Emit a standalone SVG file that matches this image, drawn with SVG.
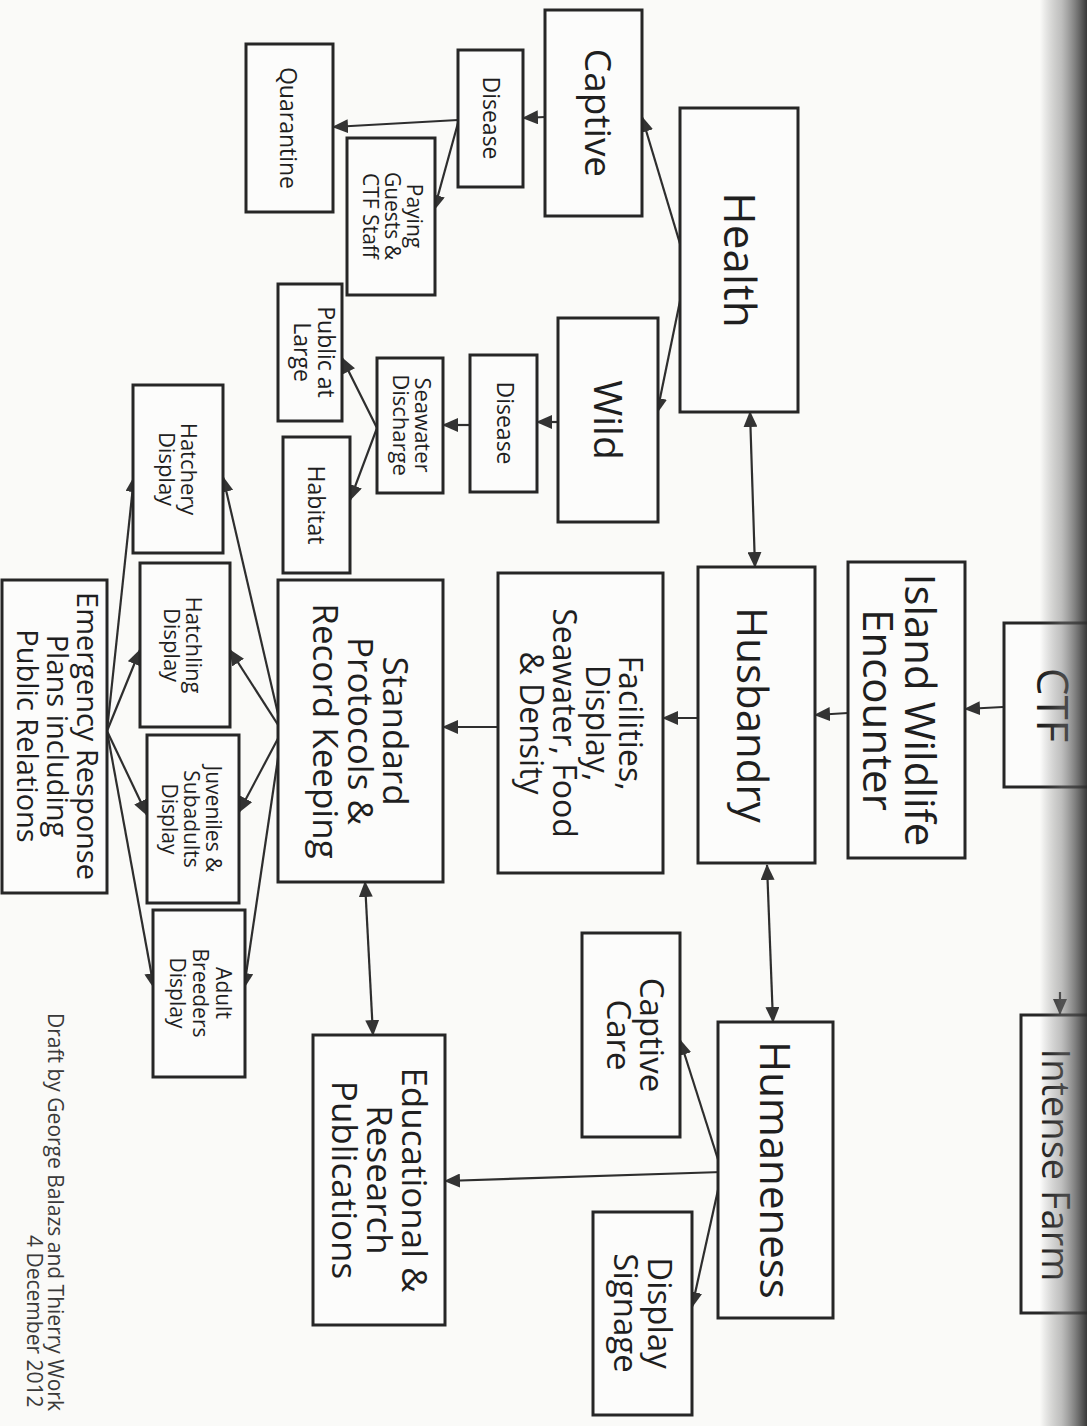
<svg xmlns="http://www.w3.org/2000/svg" width="1087" height="1426" viewBox="0 0 1087 1426">
<style>
.box{fill:#fcfcfb;stroke:#262626;stroke-width:3}
.t{font-family:"Open Sans","Noto Sans","Liberation Sans",sans-serif;fill:#1f1f1f;text-anchor:middle}
.c{fill:none;stroke:#2e2e2e;stroke-width:2.2;marker-end:url(#ah)}
.d{marker-start:url(#ah)}
.foot{font-family:"Open Sans","Noto Sans","Liberation Sans",sans-serif;fill:#3a3a3a;font-size:21px}
</style>
<defs>
<marker id="ah" markerUnits="userSpaceOnUse" markerWidth="16" markerHeight="14" refX="15" refY="7" orient="auto-start-reverse">
<path d="M0,0 L16,7 L0,14 z" fill="#333"/>
</marker>
<linearGradient id="shade" x1="0" y1="0" x2="1" y2="0">
<stop offset="0" stop-color="#555" stop-opacity="0"/>
<stop offset="0.45" stop-color="#777" stop-opacity="0.45"/>
<stop offset="1" stop-color="#2e2e2e" stop-opacity="0.95"/>
</linearGradient>
</defs>
<rect width="1087" height="1426" fill="#fafaf8"/>

<g id="connectors">
<path class="c" d="M1003,707 L965,709"/>
<path class="c" d="M848,713 L815,715"/>
<path class="c d" d="M750,412 L755,567"/>
<path class="c d" d="M767,865 L773,1022"/>
<path class="c" d="M687,267 L642,117"/>
<path class="c" d="M687,267 L657,413"/>
<path class="c" d="M545,117 L523,118"/>
<path class="c" d="M458,120 L333,127"/>
<path class="c" d="M458,123 L434,210"/>
<path class="c" d="M560,422 L537,422"/>
<path class="c" d="M470,425 L443,425"/>
<path class="c" d="M377,428 L342,358"/>
<path class="c" d="M377,428 L350,500"/>
<path class="c" d="M698,718 L663,718"/>
<path class="c" d="M498,727 L443,727"/>
<path class="c d" d="M365,882 L373,1035"/>
<path class="c" d="M722,1172 L680,1040"/>
<path class="c" d="M722,1172 L692,1307"/>
<path class="c" d="M722,1172 L445,1181"/>
<path class="c" d="M282,731 L223,477"/>
<path class="c" d="M282,731 L230,650"/>
<path class="c" d="M282,731 L239,812"/>
<path class="c" d="M282,731 L244,988"/>
<path class="c" d="M107,731 L134,477"/>
<path class="c" d="M107,731 L140,650"/>
<path class="c" d="M107,731 L147,815"/>
<path class="c" d="M107,731 L154,988"/>
<path class="c" d="M1060,992 L1060,1014"/>
</g>

<g id="quarantine"><rect class="box" x="246" y="44" width="87" height="168"/>
<text class="t" font-size="23" transform="translate(280,128) rotate(90)">Quarantine</text></g>
<g id="disease-captive"><rect class="box" x="458" y="50" width="65" height="137"/>
<text class="t" font-size="23" transform="translate(483,118) rotate(90)">Disease</text></g>
<g id="captive"><rect class="box" x="545" y="10" width="97" height="206"/>
<text class="t" font-size="37" transform="translate(585,113) rotate(90)">Captive</text></g>
<g id="paying-guests"><rect class="box" x="347" y="138" width="88" height="157"/>
<text class="t" font-size="21" transform="translate(407,216) rotate(90)"><tspan x="0" y="0">Paying</tspan><tspan x="0" y="22">Guests &amp;</tspan><tspan x="0" y="44">CTF Staff</tspan></text></g>
<g id="health"><rect class="box" x="680" y="108" width="118" height="304"/>
<text class="t" font-size="44" transform="translate(724,260) rotate(90)">Health</text></g>
<g id="public"><rect class="box" x="278" y="284" width="64" height="137"/>
<text class="t" font-size="23" transform="translate(318,352) rotate(90)"><tspan x="0" y="0">Public at</tspan><tspan x="0" y="24">Large</tspan></text></g>
<g id="seawater"><rect class="box" x="377" y="358" width="66" height="135"/>
<text class="t" font-size="22" transform="translate(415,425) rotate(90)"><tspan x="0" y="0">Seawater</tspan><tspan x="0" y="22">Discharge</tspan></text></g>
<g id="disease-wild"><rect class="box" x="470" y="355" width="67" height="137"/>
<text class="t" font-size="23" transform="translate(497,423) rotate(90)">Disease</text></g>
<g id="wild"><rect class="box" x="558" y="318" width="100" height="204"/>
<text class="t" font-size="39" transform="translate(594,420) rotate(90)">Wild</text></g>
<g id="habitat"><rect class="box" x="283" y="437" width="67" height="136"/>
<text class="t" font-size="23" transform="translate(308,505) rotate(90)">Habitat</text></g>
<g id="hatchery"><rect class="box" x="133" y="385" width="90" height="168"/>
<text class="t" font-size="22" transform="translate(181,469) rotate(90)"><tspan x="0" y="0">Hatchery</tspan><tspan x="0" y="22">Display</tspan></text></g>
<g id="hatchling"><rect class="box" x="140" y="563" width="90" height="164"/>
<text class="t" font-size="22" transform="translate(186,645) rotate(90)"><tspan x="0" y="0">Hatchling</tspan><tspan x="0" y="22">Display</tspan></text></g>
<g id="juveniles"><rect class="box" x="147" y="735" width="92" height="168"/>
<text class="t" font-size="21" transform="translate(206,819) rotate(90)"><tspan x="0" y="0">Juveniles &amp;</tspan><tspan x="0" y="22">Subadults</tspan><tspan x="0" y="44">Display</tspan></text></g>
<g id="adult"><rect class="box" x="153" y="910" width="92" height="167"/>
<text class="t" font-size="21" transform="translate(216,993) rotate(90)"><tspan x="0" y="0">Adult</tspan><tspan x="0" y="23">Breeders</tspan><tspan x="0" y="46">Display</tspan></text></g>
<g id="emergency"><rect class="box" x="2" y="580" width="105" height="313"/>
<text class="t" font-size="29" transform="translate(77,736) rotate(90)"><tspan x="0" y="0">Emergency Response</tspan><tspan x="0" y="30">Plans including</tspan><tspan x="0" y="60">Public Relations</tspan></text></g>
<g id="standard"><rect class="box" x="278" y="580" width="165" height="302"/>
<text class="t" font-size="35" transform="translate(383,731) rotate(90)"><tspan x="0" y="0">Standard</tspan><tspan x="0" y="35">Protocols &amp;</tspan><tspan x="0" y="70">Record Keeping</tspan></text></g>
<g id="facilities"><rect class="box" x="498" y="573" width="165" height="300"/>
<text class="t" font-size="32" transform="translate(619,723) rotate(90)"><tspan x="0" y="0">Facilities,</tspan><tspan x="0" y="33">Display,</tspan><tspan x="0" y="66">Seawater, Food</tspan><tspan x="0" y="99">&amp; Density</tspan></text></g>
<g id="husbandry"><rect class="box" x="698" y="567" width="117" height="296"/>
<text class="t" font-size="42" transform="translate(737,715) rotate(90)">Husbandry</text></g>
<g id="island"><rect class="box" x="848" y="562" width="117" height="296"/>
<text class="t" font-size="42" transform="translate(905,710) rotate(90)"><tspan x="0" y="0">Island Wildlife</tspan><tspan x="0" y="42">Encounter</tspan></text></g>
<g id="ctf"><rect class="box" x="1004" y="623" width="120" height="164"/>
<text class="t" font-size="44" transform="translate(1037,705) rotate(90)">CTF</text></g>
<g id="intense-farm"><rect class="box" x="1021" y="1015" width="120" height="298"/>
<text class="t" font-size="38" transform="translate(1042,1165) rotate(90)">Intense Farm</text></g>
<g id="captive-care"><rect class="box" x="582" y="933" width="98" height="204"/>
<text class="t" font-size="33" transform="translate(640,1035) rotate(90)"><tspan x="0" y="0">Captive</tspan><tspan x="0" y="33">Care</tspan></text></g>
<g id="display-signage"><rect class="box" x="593" y="1212" width="99" height="203"/>
<text class="t" font-size="33" transform="translate(648,1313) rotate(90)"><tspan x="0" y="0">Display</tspan><tspan x="0" y="34">Signage</tspan></text></g>
<g id="humaneness"><rect class="box" x="718" y="1022" width="115" height="296"/>
<text class="t" font-size="42" transform="translate(760,1170) rotate(90)">Humaneness</text></g>
<g id="educational"><rect class="box" x="313" y="1035" width="132" height="290"/>
<text class="t" font-size="35" transform="translate(402,1180) rotate(90)"><tspan x="0" y="0">Educational &amp;</tspan><tspan x="0" y="35">Research</tspan><tspan x="0" y="70">Publications</tspan></text></g>

<g id="footer">
<text class="foot" transform="translate(48,1013) rotate(90)">Draft by George Balazs and Thierry Work</text>
<text class="foot" transform="translate(27,1235) rotate(90)">4 December 2012</text>
</g>

<rect x="1040" y="0" width="47" height="1426" fill="url(#shade)"/>
</svg>
